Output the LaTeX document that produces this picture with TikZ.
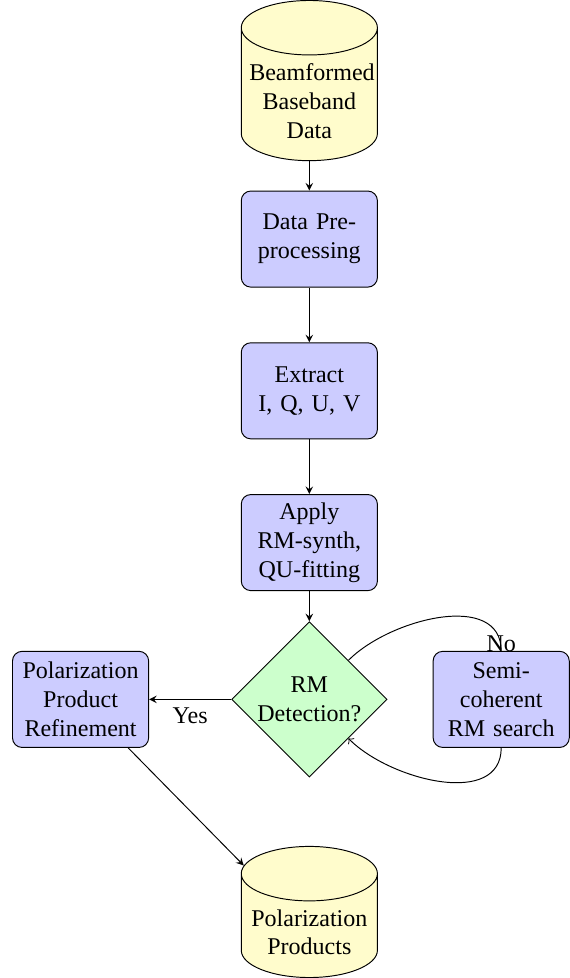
\documentclass[tikz,border=0pt]{standalone}
\usepackage{fontspec}
\setmainfont{Liberation Serif}
\usepackage{tikz}
\usetikzlibrary{arrows,positioning,shapes.geometric}
\tikzset{
    %Define standard arrow tip
    >=stealth,
    %Define style for boxes
    block/.style={
           rectangle,
           rounded corners,
           draw=black,
           text width=5em,
           minimum height=4em,
           text centered,
           fill=blue!20},
    decision/.style={
           diamond,
           draw=black,
           text width=4.6em,
           inner sep=0pt,
           text badly centered,
           fill=green!20},
    database/.style={
           cylinder,
           shape border rotate=90,
           aspect=0.4,
           draw=black,
           text width=5em,
           text centered,
           fill=yellow!20},
    % Define arrow style
    line/.style={
           draw,
           ->}
}
\begin{document}
\begin{tikzpicture}[node distance=0.8cm]
\node[database](data){Beamformed Baseband Data};
\node[block, below=0.43cm of data](pre){Data Pre-processing};
\node[block, below=of pre](extract){Extract\\ I, Q, U, V};
\node[block, below=of extract](apply){Apply RM-synth, QU-fitting};
\node[decision, below=0.44cm of apply](decide){RM Detection?};
\node[block, left=1.2cm of decide](refine){Polarization Product Refinement};
\node[block, right=0.66cm of decide](semi){Semi-coherent RM search};
\node[database, below=1cm of decide](products){Polarization Products};

\path[line]
	(data) edge (pre)
	(pre) edge (extract)
	(extract) edge (apply)
	(apply) edge (decide)
	(decide) edge node[below]{Yes} (refine)
	(refine) edge (products);
\draw (decide.north east) to[out=45,in=90] node[pos=1,yshift=3pt]{No} (semi.north);
\draw[-to] (semi.south) to[out=-90,in=-45] (decide.south east);
% left margin
\path ([xshift=-5pt]refine.west);
\end{tikzpicture}
\end{document}
